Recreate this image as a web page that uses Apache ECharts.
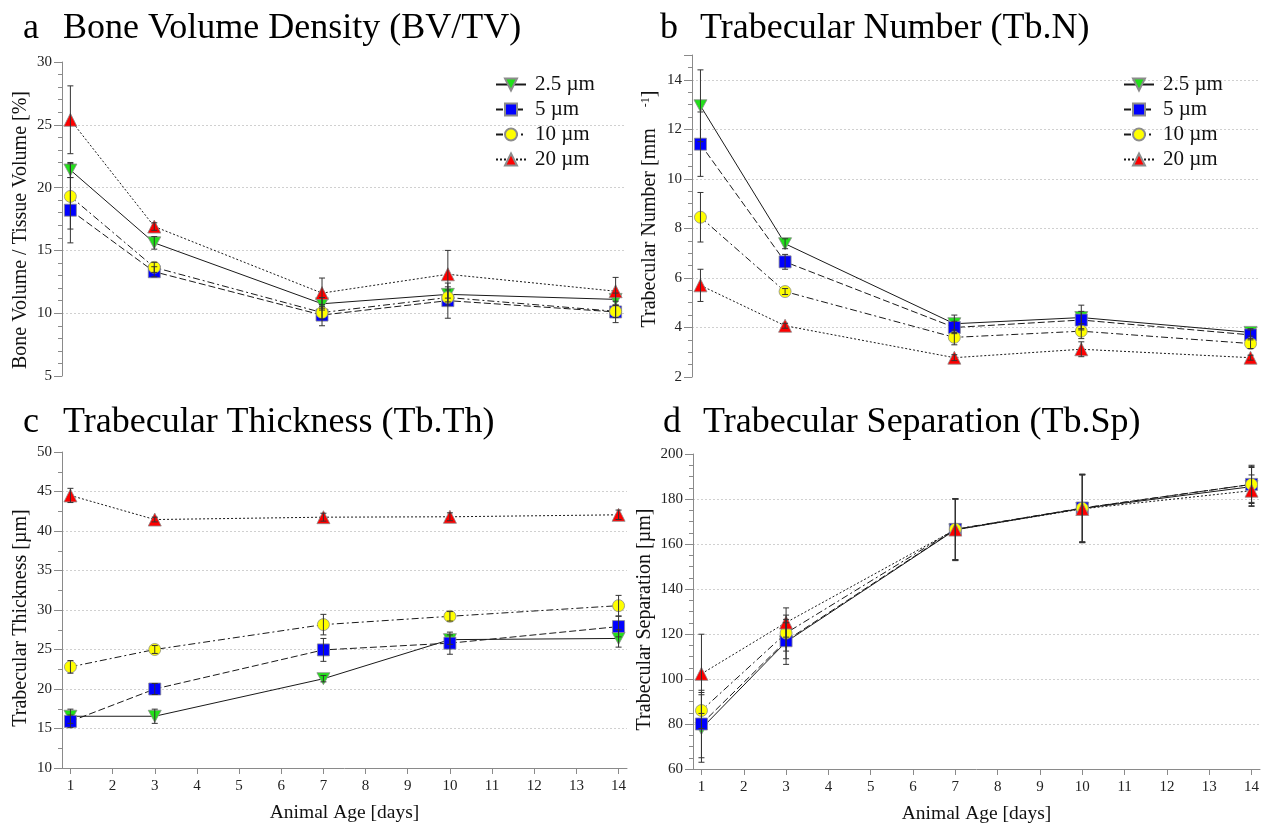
<!DOCTYPE html>
<html>
<head>
<meta charset="utf-8">
<script src="https://cdn.jsdelivr.net/npm/echarts@6/dist/echarts.min.js"></script>
<style>
  html, body { margin: 0; padding: 0; background: #fff; }
  #chart { width: 1268px; height: 825px; }
</style>
</head>
<body>
<div id="chart"></div>
<script>
// animal age at each scan
var days = [1, 3, 7, 10, 14];
var dayTicks = [1, 2, 3, 4, 5, 6, 7, 8, 9, 10, 11, 12, 13, 14];
var resolutions = ["2.5 µm", "5 µm", "10 µm", "20 µm"];

// a - BV/TV [%]
var bvtv25 = [21.4, 15.6, 10.75, 11.5, 11.1];
var bvtv5 = [18.2, 13.3, 9.85, 11.0, 10.1];
var bvtv10 = [19.3, 13.65, 10.05, 11.25, 10.15];
var bvtv20 = [25.4, 16.9, 11.6, 13.1, 11.75];
var bvtv25Sd = [0.6, 0.5, 0.5, 0.6, 0.5];
var bvtv5Sd = [2.6, 0.4, 0.85, 1.4, 0.85];
var bvtv10Sd = [2.6, 0.4, 0.5, 0.6, 0.5];
var bvtv20Sd = [2.7, 0.3, 1.2, 1.9, 1.1];

// b - Tb.N [1/mm]
var tbn25 = [12.95, 7.38, 4.15, 4.4, 3.8];
var tbn5 = [11.4, 6.65, 4.0, 4.3, 3.7];
var tbn10 = [8.45, 5.45, 3.6, 3.85, 3.35];
var tbn20 = [5.7, 4.07, 2.78, 3.12, 2.78];
var tbn25Sd = [1.45, 0.2, 0.35, 0.5, 0.15];
var tbn5Sd = [1.3, 0.3, 0.25, 0.35, 0.2];
var tbn10Sd = [1.0, 0.12, 0.3, 0.3, 0.2];
var tbn20Sd = [0.65, 0.1, 0.12, 0.3, 0.1];

// c - Tb.Th [um]
var tbth25 = [16.55, 16.55, 21.3, 26.25, 26.4];
var tbth5 = [15.9, 20.0, 24.95, 25.8, 27.9];
var tbth10 = [22.8, 25.0, 28.15, 29.2, 30.55];
var tbth20 = [44.5, 41.45, 41.75, 41.8, 42.05];
var tbth25Sd = [0.9, 0.9, 0.4, 0.6, 1.1];
var tbth5Sd = [0.8, 0.7, 1.45, 1.4, 1.3];
var tbth10Sd = [0.8, 0.5, 1.3, 0.6, 1.3];
var tbth20Sd = [0.9, 0.3, 0.5, 0.5, 0.6];

// d - Tb.Sp [um]
var tbsp25 = [78, 116.5, 166.3, 175.8, 185.5];
var tbsp5 = [80, 117, 166.5, 176, 186.5];
var tbsp10 = [86, 120.4, 166.6, 175.9, 186.5];
var tbsp20 = [102.3, 125.1, 166.4, 175.6, 183.7];
var tbsp25Sd = [15, 10, 13.7, 15.2, 8.5];
var tbsp5Sd = [15, 8, 13.7, 15, 8];
var tbsp10Sd = [8, 8, 13.5, 15, 8.5];
var tbsp20Sd = [17.6, 6.5, 13.5, 15, 7];

var serif = "'Liberation Serif', 'Times New Roman', serif";
var axisGray = "#8a8a8a";

var markerSymbols = ["path://M0,0 L10,0 L5,9 Z", "rect", "circle", "triangle"];
var markerSizes = [[13, 12], 12, 12, 13];
var markerColors = ["#22e01a", "#0000ff", "#ffff00", "#ff0000"];
var lineTypes = ["solid", [7, 3], [7, 3, 2, 3], [2, 2]];

var panels = [
  {
    letter: "a", title: "Bone Volume Density (BV/TV)",
    yName: "Bone Volume / Tissue Volume [%]",
    grid: { left: 62, top: 62, width: 562, height: 314 },
    letterLeft: 23, titleLeft: 63, titleTop: 11, namePad: [0, 22, 0, 0],
    min: 5, max: 30, interval: 5, minor: 5, nameGap: 31, xAxis: false,
    means: [bvtv25, bvtv5, bvtv10, bvtv20],
    sds: [bvtv25Sd, bvtv5Sd, bvtv10Sd, bvtv20Sd],
  },
  {
    letter: "b", title: "Trabecular Number (Tb.N)",
    yName: "{t|Trabecular Number [mm}{s|       -1}{t|]}",
    grid: { left: 692, top: 55, width: 567, height: 322 },
    letterLeft: 660, titleLeft: 700, titleTop: 11, namePad: [0, 0, 0, 14],
    min: 2, max: 15, interval: 2, minor: 4, nameGap: 32, xAxis: false,
    means: [tbn25, tbn5, tbn10, tbn20],
    sds: [tbn25Sd, tbn5Sd, tbn10Sd, tbn20Sd],
  },
  {
    letter: "c", title: "Trabecular Thickness (Tb.Th)",
    yName: "Trabecular Thickness [µm]",
    grid: { left: 62, top: 452, width: 565, height: 316 },
    letterLeft: 23, titleLeft: 63, titleTop: 405, namePad: [0, 16, 0, 0],
    min: 10, max: 50, interval: 5, minor: 2, nameGap: 31, xAxis: true,
    means: [tbth25, tbth5, tbth10, tbth20],
    sds: [tbth25Sd, tbth5Sd, tbth10Sd, tbth20Sd],
  },
  {
    letter: "d", title: "Trabecular Separation (Tb.Sp)",
    yName: "Trabecular Separation [µm]",
    grid: { left: 693, top: 454, width: 567, height: 315 },
    letterLeft: 663, titleLeft: 703, titleTop: 405, namePad: [0, 16, 0, 0],
    min: 60, max: 200, interval: 20, minor: 4, nameGap: 38, xAxis: true,
    means: [tbsp25, tbsp5, tbsp10, tbsp20],
    sds: [tbsp25Sd, tbsp5Sd, tbsp10Sd, tbsp20Sd],
  },
];

function errorBars(gi, mean, sd) {
  return {
    type: "custom",
    xAxisIndex: gi,
    yAxisIndex: gi,
    silent: true,
    z: 5,
    encode: { x: 0, y: [1, 2] },
    data: days.map(function (d, i) {
      return [d, mean[i] - sd[i], mean[i] + sd[i]];
    }),
    renderItem: function (params, api) {
      var lo = api.coord([api.value(0), api.value(1)]);
      var hi = api.coord([api.value(0), api.value(2)]);
      var w = 3;
      var st = { stroke: "#333", lineWidth: 1 };
      return {
        type: "group",
        children: [
          { type: "line", shape: { x1: lo[0], y1: lo[1], x2: hi[0], y2: hi[1] }, style: st },
          { type: "line", shape: { x1: lo[0] - w, y1: lo[1], x2: lo[0] + w, y2: lo[1] }, style: st },
          { type: "line", shape: { x1: hi[0] - w, y1: hi[1], x2: hi[0] + w, y2: hi[1] }, style: st },
        ],
      };
    },
  };
}

var grids = [], xAxes = [], yAxes = [], series = [], titles = [];
var titleFont = { fontFamily: serif, fontSize: 36, fontWeight: "normal", color: "#000" };

panels.forEach(function (p, gi) {
  grids.push(p.grid);

  titles.push({ text: p.letter, left: p.letterLeft, top: p.titleTop, padding: 0, textStyle: titleFont });
  titles.push({ text: p.title, left: p.titleLeft, top: p.titleTop, padding: 0, textStyle: titleFont });

  xAxes.push({
    gridIndex: gi,
    type: "value",
    min: 0.8,
    max: 14.2,
    show: p.xAxis,
    name: "Animal Age [days]",
    nameLocation: "middle",
    nameGap: 35,
    nameTextStyle: { fontFamily: serif, fontSize: 19.5, color: "#111" },
    axisLine: { show: true, onZero: false, lineStyle: { color: axisGray } },
    axisTick: { show: true, length: 6, customValues: dayTicks, lineStyle: { color: axisGray } },
    axisLabel: { customValues: dayTicks, fontFamily: serif, fontSize: 15, color: "#222", margin: 11 },
    splitLine: { show: false },
  });

  yAxes.push({
    gridIndex: gi,
    type: "value",
    min: p.min,
    max: p.max,
    interval: p.interval,
    name: p.yName,
    nameLocation: "middle",
    nameGap: p.nameGap,
    nameTextStyle: {
      fontFamily: serif, fontSize: 20, color: "#111", padding: p.namePad,
      rich: {
        t: { fontFamily: serif, fontSize: 20, color: "#111" },
        s: { fontFamily: serif, fontSize: 12, color: "#111", verticalAlign: "top" },
      },
    },
    axisLine: { show: true, lineStyle: { color: axisGray } },
    axisTick: { show: true, length: 8, lineStyle: { color: axisGray } },
    minorTick: { show: true, splitNumber: p.minor, length: 4, lineStyle: { color: axisGray } },
    axisLabel: { fontFamily: serif, fontSize: 15, color: "#222", margin: 10, showMaxLabel: gi !== 1 },
    splitLine: {
      show: true,
      showMinLine: false,
      showMaxLine: false,
      lineStyle: { color: "#d0d0d0", type: [2, 2], width: 1 },
    },
  });

  p.means.forEach(function (m, si) {
    series.push({
      name: resolutions[si],
      type: "line",
      xAxisIndex: gi,
      yAxisIndex: gi,
      data: days.map(function (d, i) { return [d, m[i]]; }),
      symbol: markerSymbols[si],
      symbolSize: markerSizes[si],
      showAllSymbol: true,
      lineStyle: { color: "#1a1a1a", width: 1, type: lineTypes[si] },
      itemStyle: { color: markerColors[si], borderColor: "#8c8c8c", borderWidth: 0.8 },
      z: 3,
      animation: false,
    });
  });
  p.means.forEach(function (m, si) {
    series.push(errorBars(gi, m, p.sds[si]));
  });
});

var legendBase = {
  orient: "vertical",
  top: 69,
  itemWidth: 30,
  itemHeight: 15,
  itemGap: 4,
  data: resolutions,
  selectedMode: false,
  textStyle: { fontFamily: serif, fontSize: 21, color: "#111", padding: [0, 0, 0, 4] },
};

var chart = echarts.init(document.getElementById("chart"));
chart.setOption({
  animation: false,
  backgroundColor: "#fff",
  title: titles,
  legend: [
    Object.assign({ left: 490 }, legendBase),
    Object.assign({ left: 1118 }, legendBase),
  ],
  grid: grids,
  xAxis: xAxes,
  yAxis: yAxes,
  series: series,
});
</script>
</body>
</html>
